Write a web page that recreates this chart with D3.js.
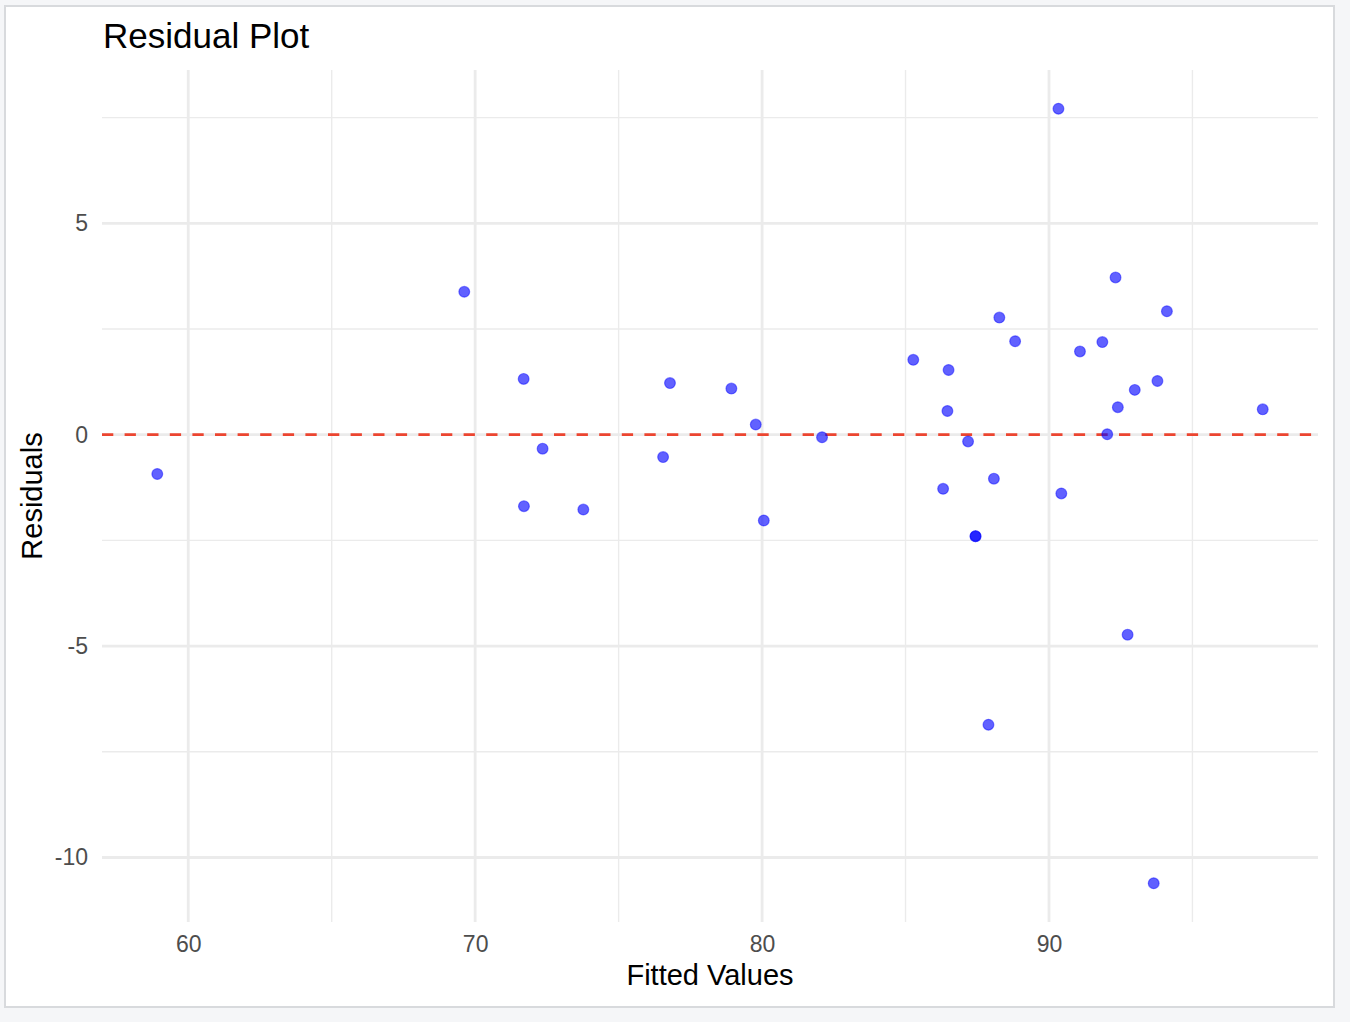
<!DOCTYPE html>
<html>
<head>
<meta charset="utf-8">
<script src="https://cdn.jsdelivr.net/npm/d3@7"></script>
<style>
	body { margin: 0; background: #f5f6f8; font-family: "Liberation Sans", Arial, sans-serif; }
	.frame { position: absolute; left: 4px; top: 5px; width: 1327px; height: 999px; background: #fff; border: 2px solid #d8dadd; }
</style>
</head>
<body>
<div class="frame"></div>
<script>
// fitted values and residuals
var fitted = [58.92, 69.62, 71.69, 71.70, 72.35, 73.77, 76.55, 76.79, 78.93, 79.78,
	80.06, 82.09, 85.27, 86.31, 86.50, 86.46, 87.18, 87.44, 87.44, 88.27,
	88.08, 88.82, 87.89, 90.33, 90.43, 91.08, 91.86, 92.03, 92.32, 92.40,
	92.74, 92.99, 93.65, 93.78, 94.11, 97.45];
var residuals = [-0.93, 3.38, 1.32, -1.69, -0.33, -1.77, -0.53, 1.22, 1.09, 0.24,
	-2.03, -0.06, 1.77, -1.28, 1.53, 0.56, -0.16, -2.40, -2.40, 2.77,
	-1.04, 2.21, -6.86, 7.71, -1.39, 1.97, 2.19, 0.01, 3.72, 0.65,
	-4.73, 1.06, -10.61, 1.27, 2.92, 0.60];
var xMajor = [60, 70, 80, 90];
var xMinor = [65, 75, 85, 95];
var yMajor = [5, 0, -5, -10];
var yMinor = [7.5, 2.5, -2.5, -7.5];

var width = 1350, height = 1022;
var margin = {left: 102, right: 32, top: 70, bottom: 100};

// ggplot style 5% expansion of the data range
function expand(ext){
	var pad = (ext[1] - ext[0]) * 0.05;
	return [ext[0] - pad, ext[1] + pad];
}

var x = d3.scaleLinear().domain(expand(d3.extent(fitted))).range([margin.left, width - margin.right]);
var y = d3.scaleLinear().domain(expand(d3.extent(residuals))).range([height - margin.bottom, margin.top]);

var svg = d3.select("body").append("svg")
	.attr("width", width).attr("height", height)
	.style("position", "absolute").style("left", 0).style("top", 0);

var grid = svg.append("g");
grid.selectAll(".vmin").data(xMinor).enter().append("line")
	.attr("x1", x).attr("x2", x).attr("y1", y.range()[0]).attr("y2", y.range()[1])
	.attr("stroke", "#ebebeb").attr("stroke-width", 1.4);
grid.selectAll(".hmin").data(yMinor).enter().append("line")
	.attr("y1", y).attr("y2", y).attr("x1", x.range()[0]).attr("x2", x.range()[1])
	.attr("stroke", "#ebebeb").attr("stroke-width", 1.4);
grid.selectAll(".vmaj").data(xMajor).enter().append("line")
	.attr("x1", x).attr("x2", x).attr("y1", y.range()[0]).attr("y2", y.range()[1])
	.attr("stroke", "#ebebeb").attr("stroke-width", 2.8);
grid.selectAll(".hmaj").data(yMajor).enter().append("line")
	.attr("y1", y).attr("y2", y).attr("x1", x.range()[0]).attr("x2", x.range()[1])
	.attr("stroke", "#ebebeb").attr("stroke-width", 2.8);

// axes, text only (theme_minimal has no axis lines or ticks)
var plain = function(d){ return String(d); };
var xAxis = svg.append("g")
	.attr("transform", "translate(0," + (height - margin.bottom + 8) + ")")
	.call(d3.axisBottom(x).tickValues(xMajor).tickFormat(plain).tickSize(0).tickPadding(0));
var yAxis = svg.append("g")
	.attr("transform", "translate(" + (margin.left - 14) + ",0)")
	.call(d3.axisLeft(y).tickValues(yMajor).tickFormat(plain).tickSize(0).tickPadding(0));
svg.selectAll(".domain").remove();
svg.selectAll(".tick text")
	.attr("fill", "#4d4d4d")
	.style("font-family", "'Liberation Sans', Arial, sans-serif")
	.style("font-size", "23px");
xAxis.selectAll(".tick text").attr("dy", "0.95em");

// zero line
svg.append("line")
	.attr("x1", x.range()[0]).attr("x2", x.range()[1])
	.attr("y1", y(0)).attr("y2", y(0))
	.attr("stroke", "#ec4530").attr("stroke-width", 2.8)
	.attr("stroke-dasharray", "11.3,11.3");

svg.append("g").selectAll("circle").data(fitted).enter().append("circle")
	.attr("cx", function(d){ return x(d); })
	.attr("cy", function(d, i){ return y(residuals[i]); })
	.attr("r", 5.4)
	.attr("fill", "#0000ff").attr("fill-opacity", 0.62)
	.attr("stroke", "#0000ff").attr("stroke-opacity", 0.45).attr("stroke-width", 1.2);

svg.append("text")
	.attr("x", 103).attr("y", 48)
	.style("font-size", "35px").attr("fill", "#000")
	.text("Residual Plot");

svg.append("text")
	.attr("x", (x.range()[0] + x.range()[1]) / 2).attr("y", 985)
	.attr("text-anchor", "middle")
	.style("font-size", "29px").attr("fill", "#000")
	.text("Fitted Values");

svg.append("text")
	.attr("transform", "translate(42," + ((y.range()[0] + y.range()[1]) / 2) + ") rotate(-90)")
	.attr("text-anchor", "middle")
	.style("font-size", "29px").attr("fill", "#000")
	.text("Residuals");
</script>
</body>
</html>
